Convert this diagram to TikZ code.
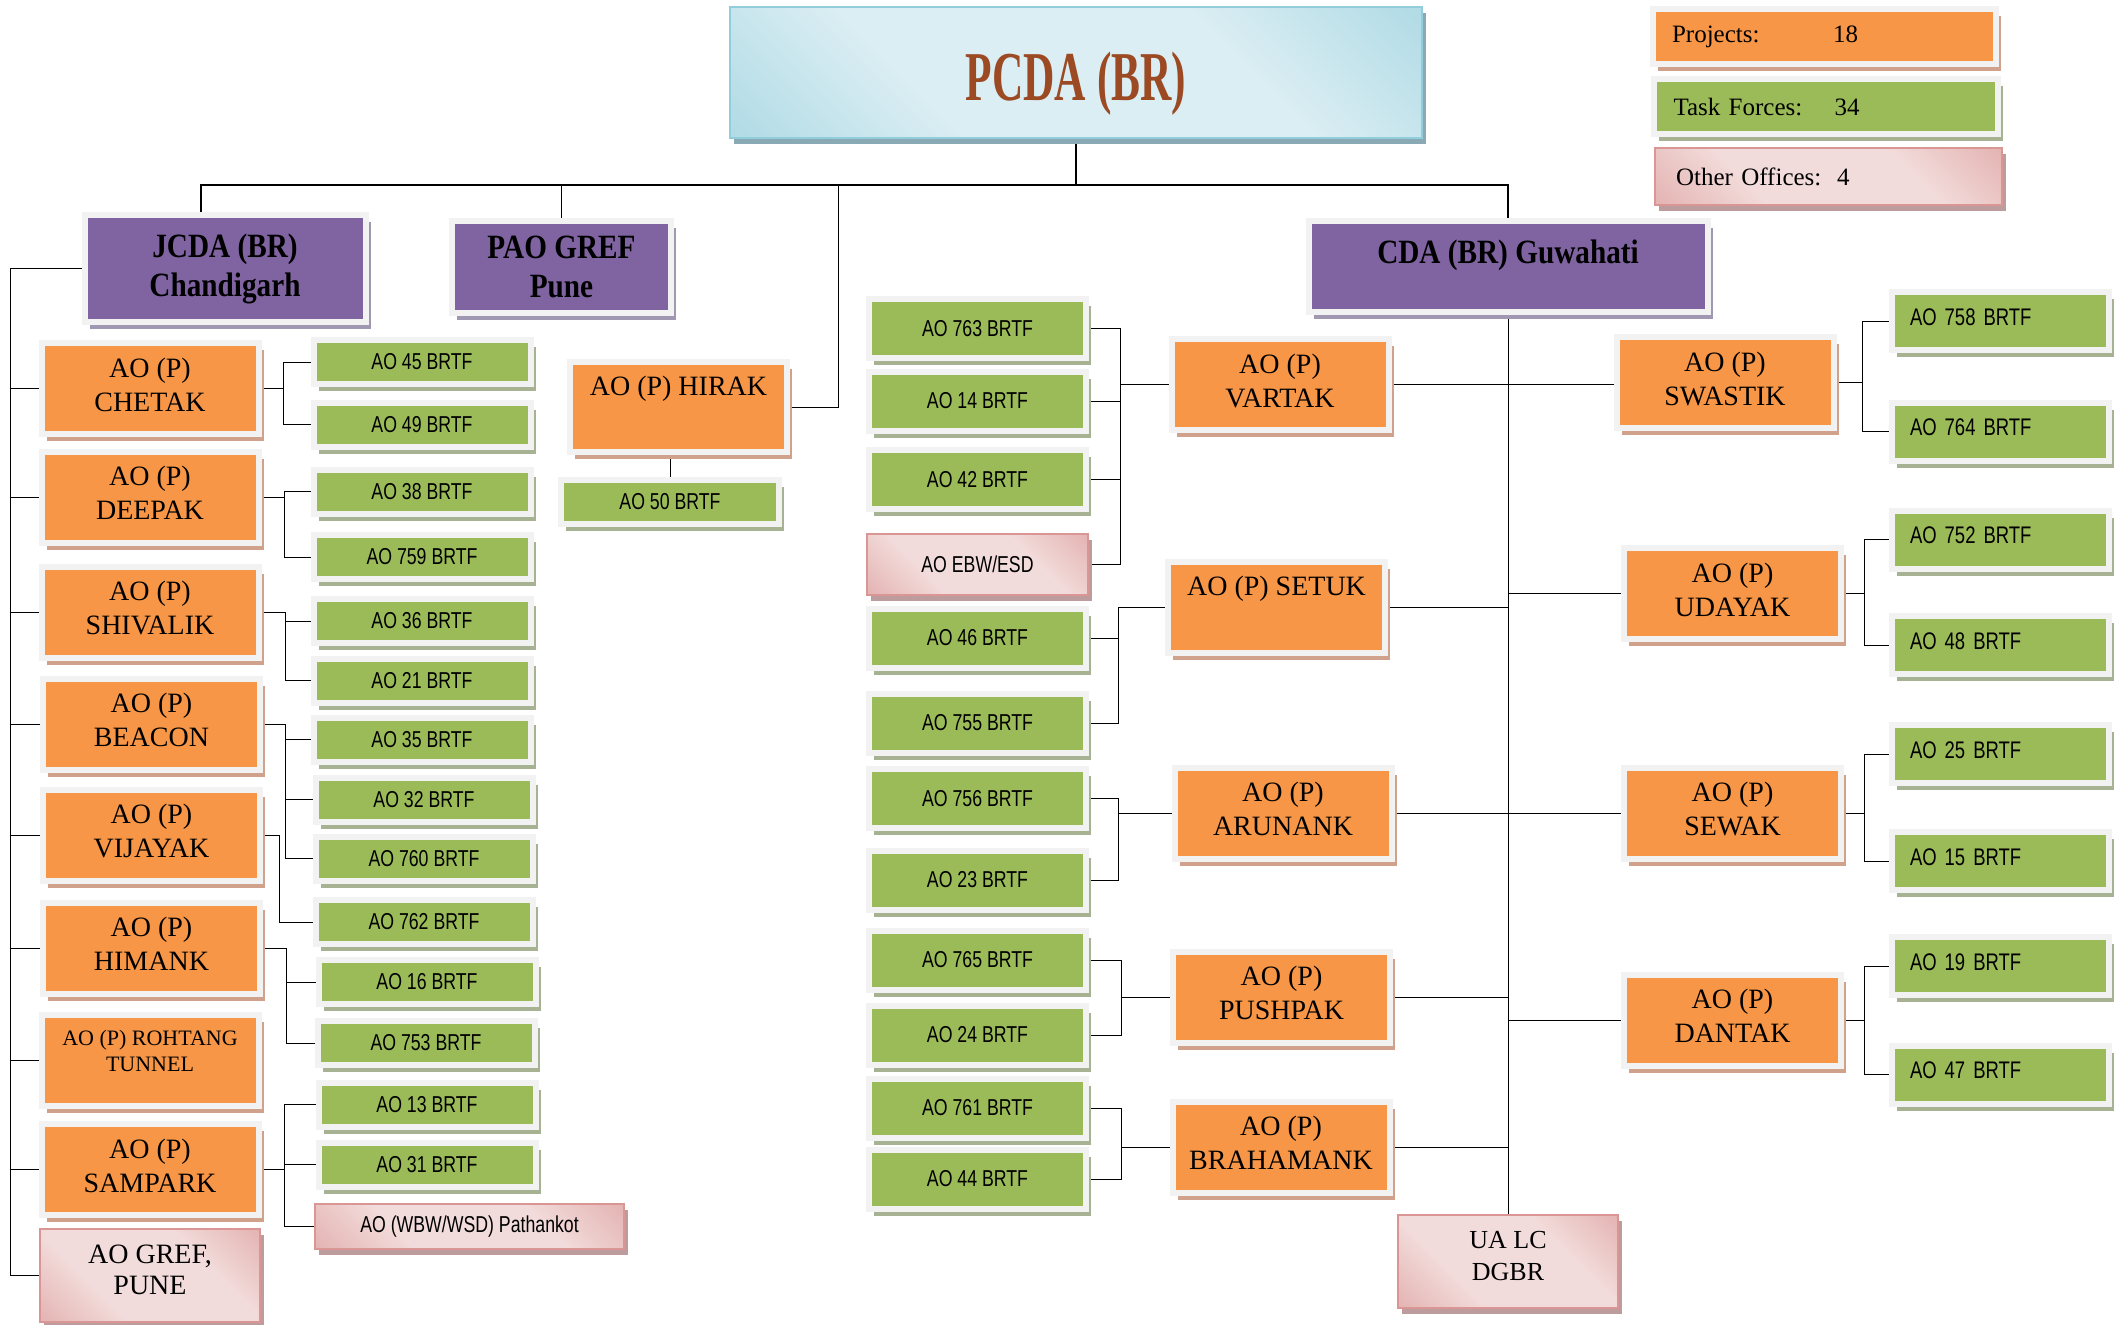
\documentclass[tikz,border=0pt]{standalone}
\usepackage{fontspec}
\setmainfont{Liberation Serif}
\newfontfamily\brtffont[FakeStretch=0.77]{Liberation Sans}
\newfontfamily\headfont[FakeStretch=0.86]{Liberation Serif}
\newfontfamily\titlefont[FakeStretch=0.62]{Liberation Serif}
\usetikzlibrary{shadows,backgrounds}

\definecolor{aoorange}{HTML}{F79646}
\definecolor{tfgreen}{HTML}{9BBB59}
\definecolor{hqpurple}{HTML}{8064A2}
\definecolor{framegray}{HTML}{F2F2F2}
\definecolor{orangeshade}{HTML}{D0A28C}
\definecolor{greenshade}{HTML}{A6B292}
\definecolor{purpleshade}{HTML}{A097B2}
\definecolor{pinkdark}{HTML}{D99694}
\definecolor{pinklight}{HTML}{F2DCDB}
\definecolor{pinkshade}{HTML}{BC9C9C}
\definecolor{bluedark}{HTML}{92CDDC}
\definecolor{bluelight}{HTML}{DBEEF3}
\definecolor{blueshade}{HTML}{89A9B5}
\definecolor{titlebrown}{HTML}{9C4A24}

\pgfdeclarehorizontalshading{pinkband}{100bp}{color(0bp)=(pinkdark); color(35bp)=(pinklight); color(65bp)=(pinklight); color(100bp)=(pinkdark)}
\pgfdeclarehorizontalshading{blueband}{100bp}{color(0bp)=(bluedark); color(35bp)=(bluelight); color(65bp)=(bluelight); color(100bp)=(bluedark)}

\begin{document}
\begin{tikzpicture}[x=0.5pt, y=-0.5pt, line width=1.2pt]
% -------------------------------------------------
% Box styles (sizes are given in pixels of the chart)
\tikzset{
  sz/.style 2 args={minimum width=#1*0.5pt, minimum height=#2*0.5pt},
  boxframe/.style={draw=framegray, line width=3pt, inner sep=0pt, align=center},
  aobox/.style={boxframe, fill=aoorange,
    general shadow={fill=orangeshade, shadow xshift=2.5pt, shadow yshift=-3.5pt}},
  ao/.style={aobox, text depth=4pt, font={\fontsize{14pt}{17pt}\selectfont}},
  tf/.style={boxframe, fill=tfgreen,
    general shadow={fill=greenshade, shadow xshift=2.5pt, shadow yshift=-3.5pt},
    font={\brtffont\fontsize{11.5pt}{13pt}\selectfont}},
  tfl/.style={tf, align=left, inner xsep=9pt, text width=90.5pt, text depth=4pt,
    font={\brtffont\fontsize{12pt}{14pt}\selectfont}},
  hq/.style={boxframe, fill=hqpurple,
    general shadow={fill=purpleshade, shadow xshift=2.5pt, shadow yshift=-3.5pt},
    font={\headfont\bfseries\fontsize{17pt}{19.5pt}\selectfont}},
  other/.style={draw=pinkdark, line width=0.8pt, shading=pinkband, shading angle=45,
    general shadow={fill=pinkshade, shadow xshift=2pt, shadow yshift=-3pt},
    inner sep=0pt, align=center, font={\fontsize{14pt}{15.5pt}\selectfont}},
  titlebox/.style={draw=bluedark, line width=1pt, shading=blueband, shading angle=45,
    general shadow={fill=blueshade, shadow xshift=2pt, shadow yshift=-3pt},
    text height=28pt, text depth=0pt,
    text=titlebrown, font={\titlefont\bfseries\fontsize{35pt}{40pt}\selectfont}},
  legendbox/.style={align=left, inner xsep=9.5pt, text width=152.5pt,
    font={\fontsize{12.5pt}{15pt}\selectfont}},
  bus/.style={line width=1.4pt},
}
\useasboundingbox (0,0) rectangle (2118,1324);
% -------------------------------------------------
% Head offices
\node [titlebox, sz={692}{131}] (pcda) at (1076,72.5) {PCDA (BR)};
\node [hq, sz={281}{107}] (jcda) at (225,268.5) {JCDA (BR)\\Chandigarh};
\node [hq, sz={219}{92}] (pao) at (561.5,267) {PAO GREF\\Pune};
\node [hq, sz={399}{91}, text height=12pt, text depth=14.8pt] (cda)
  at (1508,266.5) {CDA (BR) Guwahati};

% Legend
\node [aobox, legendbox, sz={343}{55}] (projects) at (1824.5,36.5)
  {\makebox[80.5pt][l]{Projects:}18};
\node [tf, legendbox, sz={344}{55}, font={\fontsize{12.5pt}{15pt}\selectfont}]
  (taskforces) at (1826,106.5) {\makebox[80.5pt][l]{Task Forces:}34};
\node [other, legendbox, sz={347}{57}] (otheroffices) at (1828.5,176.5)
  {\makebox[80.5pt][l]{Other Offices:}4};

% -------------------------------------------------
% JCDA (BR) Chandigarh: projects
\node [ao, sz={217}{91}] (chetak) at (150,388.5) {AO (P)\\CHETAK};
\node [ao, sz={217}{91}] (deepak) at (150,497) {AO (P)\\DEEPAK};
\node [ao, sz={217}{91}] (shivalik) at (150,612) {AO (P)\\SHIVALIK};
\node [ao, sz={217}{91}] (beacon) at (151.5,724) {AO (P)\\BEACON};
\node [ao, sz={217}{91}] (vijayak) at (151.5,835) {AO (P)\\VIJAYAK};
\node [ao, sz={217}{91}] (himank) at (151.5,948) {AO (P)\\HIMANK};
\node [ao, sz={217}{91}, text depth=10pt, font={\fontsize{11pt}{13pt}\selectfont}]
  (rohtang) at (150,1060.5) {AO (P) ROHTANG\\TUNNEL};
\node [ao, sz={217}{91}] (sampark) at (150,1169.5) {AO (P)\\SAMPARK};
\node [other, sz={220}{93}, text depth=5.5pt] (gref) at (150,1275.5) {AO GREF,\\PUNE};

% JCDA (BR) Chandigarh: task forces
\node [tf, sz={217}{44}] (t45) at (422,362) {AO 45 BRTF};
\node [tf, sz={217}{44}] (t49) at (422,424.5) {AO 49 BRTF};
\node [tf, sz={217}{44}] (t38) at (422,491.5) {AO 38 BRTF};
\node [tf, sz={217}{44}] (t759) at (422,557) {AO 759 BRTF};
\node [tf, sz={217}{44}] (t36) at (422,621) {AO 36 BRTF};
\node [tf, sz={217}{44}] (t21) at (422,680.5) {AO 21 BRTF};
\node [tf, sz={217}{44}] (t35) at (422,739.5) {AO 35 BRTF};
\node [tf, sz={217}{44}] (t32) at (424,799.5) {AO 32 BRTF};
\node [tf, sz={217}{44}] (t760) at (424,858.5) {AO 760 BRTF};
\node [tf, sz={217}{44}] (t762) at (424,922) {AO 762 BRTF};
\node [tf, sz={217}{44}] (t16) at (427,982) {AO 16 BRTF};
\node [tf, sz={217}{44}] (t753) at (426,1043) {AO 753 BRTF};
\node [tf, sz={217}{44}] (t13) at (427,1104.5) {AO 13 BRTF};
\node [tf, sz={217}{44}] (t31) at (427,1164.5) {AO 31 BRTF};
\node [other, sz={309}{45}, font={\brtffont\fontsize{11.5pt}{13pt}\selectfont}]
  (wbw) at (469.5,1226.5) {AO (WBW/WSD) Pathankot};

% Project under PCDA directly
\node [ao, sz={217}{90}] (hirak) at (678.5,407) {AO (P) HIRAK\\\strut};
\node [tf, sz={218}{44}] (t50) at (670,502) {AO 50 BRTF};

% -------------------------------------------------
% CDA (BR) Guwahati: task forces
\node [tf, sz={217}{59}] (t763) at (977.5,328.5) {AO 763 BRTF};
\node [tf, sz={217}{59}] (t14) at (977.5,401) {AO 14 BRTF};
\node [tf, sz={217}{59}] (t42) at (977.5,479.5) {AO 42 BRTF};
\node [other, sz={221}{61}, font={\brtffont\fontsize{11.5pt}{13pt}\selectfont}]
  (ebw) at (977.5,564.5) {AO EBW/ESD};
\node [tf, sz={217}{59}] (t46) at (977.5,638) {AO 46 BRTF};
\node [tf, sz={217}{59}] (t755) at (977.5,723) {AO 755 BRTF};
\node [tf, sz={217}{59}] (t756) at (977.5,798.5) {AO 756 BRTF};
\node [tf, sz={217}{59}] (t23) at (977.5,880) {AO 23 BRTF};
\node [tf, sz={217}{59}] (t765) at (977.5,960) {AO 765 BRTF};
\node [tf, sz={217}{59}] (t24) at (977.5,1035) {AO 24 BRTF};
\node [tf, sz={217}{59}] (t761) at (977.5,1108) {AO 761 BRTF};
\node [tf, sz={217}{59}] (t44) at (977.5,1179) {AO 44 BRTF};

% CDA (BR) Guwahati: projects
\node [ao, sz={217}{91}] (vartak) at (1280,384.5) {AO (P)\\VARTAK};
\node [ao, sz={217}{91}] (setuk) at (1276.5,607) {AO (P) SETUK\\\strut};
\node [ao, sz={217}{91}] (arunank) at (1283,813) {AO (P)\\ARUNANK};
\node [ao, sz={217}{91}] (pushpak) at (1281.5,997) {AO (P)\\PUSHPAK};
\node [ao, sz={217}{91}] (brahamank) at (1281,1147) {AO (P)\\BRAHAMANK};
\node [ao, sz={217}{91}] (swastik) at (1725,382.5) {AO (P)\\SWASTIK};
\node [ao, sz={217}{91}] (udayak) at (1732.5,593.5) {AO (P)\\UDAYAK};
\node [ao, sz={217}{91}] (sewak) at (1732.5,813) {AO (P)\\SEWAK};
\node [ao, sz={217}{91}] (dantak) at (1732.5,1020) {AO (P)\\DANTAK};
\node [other, sz={220}{93}, text depth=5.5pt, font={\fontsize{13pt}{16pt}\selectfont}]
  (ualc) at (1508,1261.5) {UA LC\\DGBR};

\node [tfl, sz={217}{58}] (t758) at (2000.5,321) {AO 758 BRTF};
\node [tfl, sz={217}{58}] (t764) at (2000.5,431.5) {AO 764 BRTF};
\node [tfl, sz={217}{58}] (t752) at (2000.5,539.5) {AO 752 BRTF};
\node [tfl, sz={217}{58}] (t48) at (2000.5,645) {AO 48 BRTF};
\node [tfl, sz={217}{58}] (t25) at (2000.5,754) {AO 25 BRTF};
\node [tfl, sz={217}{58}] (t15) at (2000.5,861) {AO 15 BRTF};
\node [tfl, sz={217}{58}] (t19) at (2000.5,966) {AO 19 BRTF};
\node [tfl, sz={217}{58}] (t47) at (2000.5,1074.5) {AO 47 BRTF};

% -------------------------------------------------
% Connectors, drawn behind the boxes
\coordinate (bus) at (1077,185);
\coordinate (busl) at (201,185);
\coordinate (hirakup) at (838,185);
\coordinate (lbus) at (10,268);
\coordinate (bchetak) at (283,0);
\coordinate (bdeepak) at (284,0);
\coordinate (bshivalik) at (285,0);
\coordinate (bbeacon) at (285,0);
\coordinate (bvijayak) at (279,0);
\coordinate (bhimank) at (286,0);
\coordinate (bsampark) at (284,0);
\coordinate (bvartak) at (1120,0);
\coordinate (bsetuk) at (1118,0);
\coordinate (barunank) at (1118,0);
\coordinate (bpushpak) at (1121,0);
\coordinate (bbrahamank) at (1121,0);
\coordinate (bswastik) at (1862,0);
\coordinate (budayak) at (1864,0);
\coordinate (bsewak) at (1864,0);
\coordinate (bdantak) at (1864,0);

\begin{scope}[on background layer]
% head office bus
\draw [bus] (pcda.south) -- (pcda.south |- bus);
\draw [bus] (busl |- jcda.north) -- (busl) -- (busl -| cda.north) -- (cda.north);
\draw (pao.north) -- (pao.north |- bus);
\draw (hirak.east) -- (hirak.east -| hirakup) -- (hirakup);
\draw (t50.north) -- (t50.north |- hirak.south);

% JCDA bus and its projects
\draw (jcda.west) -| (lbus |- gref.west) -- (gref.west);
\draw (chetak.west) -- (chetak.west -| lbus);
\draw (deepak.west) -- (deepak.west -| lbus);
\draw (shivalik.west) -- (shivalik.west -| lbus);
\draw (beacon.west) -- (beacon.west -| lbus);
\draw (vijayak.west) -- (vijayak.west -| lbus);
\draw (himank.west) -- (himank.west -| lbus);
\draw (rohtang.west) -- (rohtang.west -| lbus);
\draw (sampark.west) -- (sampark.west -| lbus);

\draw (chetak.east) -- (chetak.east -| bchetak);
\draw (t45.west) -| (bchetak |- t49.west) -- (t49.west);
\draw (deepak.east) -- (deepak.east -| bdeepak);
\draw (t38.west) -| (bdeepak |- t759.west) -- (t759.west);
\draw (shivalik.east) -| (bshivalik |- t21.west) -- (t21.west);
\draw (t36.west) -- (t36.west -| bshivalik);
\draw (beacon.east) -| (bbeacon |- t760.west) -- (t760.west);
\draw (t35.west) -- (t35.west -| bbeacon);
\draw (t32.west) -- (t32.west -| bbeacon);
\draw (vijayak.east) -| (bvijayak |- t762.west) -- (t762.west);
\draw (himank.east) -| (bhimank |- t753.west) -- (t753.west);
\draw (t16.west) -- (t16.west -| bhimank);
\draw (sampark.east) -- (sampark.east -| bsampark);
\draw (t13.west) -| (bsampark |- wbw.west) -- (wbw.west);
\draw (t31.west) -- (t31.west -| bsampark);

% CDA bus and its projects
\draw (cda.south) -- (ualc.north);
\draw (vartak.east) -- (vartak.east -| swastik.west);
\draw (setuk.east) -- (setuk.east -| cda.south);
\draw (udayak.west) -- (udayak.west -| cda.south);
\draw (arunank.east) -- (arunank.east -| sewak.west);
\draw (pushpak.east) -- (pushpak.east -| cda.south);
\draw (dantak.west) -- (dantak.west -| cda.south);
\draw (brahamank.east) -- (brahamank.east -| cda.south);

\draw (t763.east) -| (bvartak |- ebw.east) -- (ebw.east);
\draw (t14.east) -- (t14.east -| bvartak);
\draw (t42.east) -- (t42.east -| bvartak);
\draw (vartak.west) -- (vartak.west -| bvartak);
\draw (setuk.west) -| (bsetuk |- t755.east) -- (t755.east);
\draw (t46.east) -- (t46.east -| bsetuk);
\draw (t756.east) -| (barunank |- t23.east) -- (t23.east);
\draw (arunank.west) -- (arunank.west -| barunank);
\draw (t765.east) -| (bpushpak |- t24.east) -- (t24.east);
\draw (pushpak.west) -- (pushpak.west -| bpushpak);
\draw (t761.east) -| (bbrahamank |- t44.east) -- (t44.east);
\draw (brahamank.west) -- (brahamank.west -| bbrahamank);

\draw (swastik.east) -- (swastik.east -| bswastik);
\draw (t758.west) -| (bswastik |- t764.west) -- (t764.west);
\draw (udayak.east) -- (udayak.east -| budayak);
\draw (t752.west) -| (budayak |- t48.west) -- (t48.west);
\draw (sewak.east) -- (sewak.east -| bsewak);
\draw (t25.west) -| (bsewak |- t15.west) -- (t15.west);
\draw (dantak.east) -- (dantak.east -| bdantak);
\draw (t19.west) -| (bdantak |- t47.west) -- (t47.west);
\end{scope}
% -------------------------------------------------
\end{tikzpicture}
\end{document}
